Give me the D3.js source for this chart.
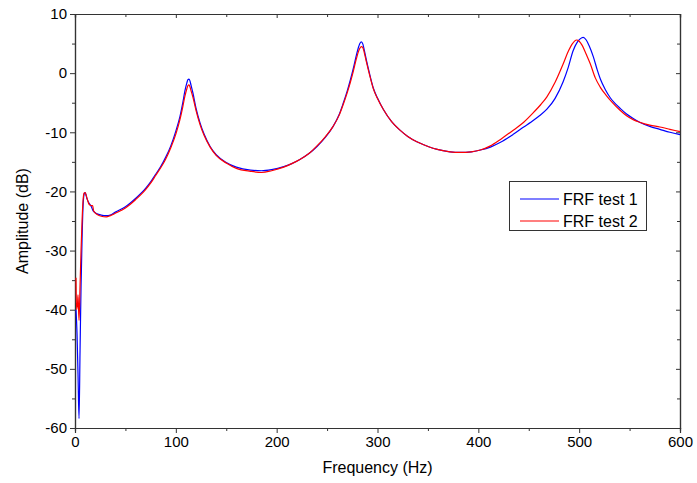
<!DOCTYPE html>
<html><head><meta charset="utf-8">
<script src="https://cdn.jsdelivr.net/npm/d3@7"></script>
<style>body{margin:0;background:#fff}svg{display:block}text{font-family:Arial,"Liberation Sans",sans-serif}</style>
</head><body>
<script>
const freq1 = [1,2,3,4,5,6,7,8,9,10,12,14,16,18,22,26,31,35,40,50,60,70,75,80,85,90,95,100,104,107,109,111,112,113,114,115,117,120,124,128,134,140,150,160,174,185,195,207,215,223,232,240,248,256,262,266,270,273,276,279,281,282.5,284,285.5,287,289,292,296,300,306,314,322,330,339,347,355,365,372,382,393,402,412,422,435,445,452,460,468,476,484,489,494,498,501,504,507,510,514,518,521,526,531,536,541,547,554,560,570,580,590,600];
const amp1 = [-40,-44,-51,-58.4,-47,-36,-28,-22.5,-20.5,-20.2,-21.3,-22.0,-22.5,-23.3,-23.8,-24.0,-24.1,-24.0,-23.5,-22.6,-21.2,-19.5,-18.4,-17.1,-15.8,-14.2,-12.3,-9.8,-7.4,-4.9,-3.0,-1.6,-1.1,-1.0,-1.3,-2.0,-3.4,-5.9,-8.4,-10.3,-12.4,-13.8,-15.1,-15.9,-16.4,-16.5,-16.3,-15.8,-15.3,-14.6,-13.6,-12.4,-10.9,-9.0,-7.0,-5.1,-3.0,-1.2,0.8,3.0,4.3,5.0,5.3,4.9,3.8,2.2,0.0,-2.6,-4.2,-6.2,-8.2,-9.6,-10.7,-11.6,-12.2,-12.7,-13.1,-13.3,-13.4,-13.3,-13.0,-12.5,-11.7,-10.3,-9.1,-8.3,-7.3,-6.1,-4.3,-1.5,0.9,3.8,5.2,5.8,6.05,5.6,4.6,2.8,0.5,-1.0,-2.8,-4.2,-5.2,-6.0,-6.9,-7.7,-8.3,-9.0,-9.5,-10.0,-10.4];
const freq2 = [1,1.5,2.5,3,4,5,6,7,8,9,10,12,14,16,17.5,18.5,22,26,31,35,40,50,60,70,75,80,85,90,95,100,104,107,109,111,112,113,114,115,117,120,124,128,134,140,150,160,174,185,195,207,215,223,232,240,248,256,262,266,270,273,276,279,281,282.5,284,285.5,287,289,292,296,300,306,314,322,330,339,347,355,365,372,382,393,402,412,422,435,445,455,462,468,476,484,489,493,497.5,500,503,507,511,516,521,527,533,540,547,554,560,570,580,590,600];
const amp2 = [-34.6,-40,-39,-37.5,-41.8,-36,-30,-25,-21.5,-20.3,-20.2,-21.2,-22.2,-22.4,-22.4,-23.3,-23.9,-24.2,-24.3,-24.1,-23.7,-22.8,-21.4,-19.7,-18.6,-17.3,-16.0,-14.5,-12.6,-10.3,-7.9,-5.6,-3.9,-2.6,-2.1,-2.0,-2.3,-2.9,-4.1,-6.3,-8.7,-10.5,-12.5,-13.9,-15.2,-16.1,-16.6,-16.8,-16.5,-15.9,-15.3,-14.6,-13.6,-12.3,-10.8,-9.0,-7.1,-5.3,-3.3,-1.6,0.3,2.4,3.6,4.2,4.5,4.3,3.4,1.9,-0.2,-2.7,-4.3,-6.2,-8.2,-9.6,-10.7,-11.6,-12.2,-12.7,-13.1,-13.3,-13.4,-13.3,-13.0,-12.3,-11.2,-9.6,-8.3,-6.6,-5.3,-4.0,-1.6,1.5,3.6,4.9,5.6,5.4,4.7,3.2,1.6,-0.8,-2.4,-3.8,-5.0,-6.2,-7.2,-7.9,-8.3,-8.8,-9.1,-9.5,-9.9];
const seriesNames = ["FRF test 1","FRF test 2"];
const xTicks = [0,100,200,300,400,500,600];
const yTicks = [-60,-50,-40,-30,-20,-10,0,10];

const W=697,H=483, m={l:75,r:17,t:14,b:55};
const svg=d3.select("body").append("svg").attr("width",W).attr("height",H);
const x=d3.scaleLinear().domain([0,600]).range([m.l,W-m.r]);
const y=d3.scaleLinear().domain([-60,10]).range([H-m.b,m.t]);
const xMinor=d3.range(50,600,100), yMinor=d3.range(-55,10,10);
const fmt=d=>String(d);

const gx=svg.append("g").attr("transform",`translate(0,${H-m.b})`);
gx.call(d3.axisBottom(x).tickValues(xMinor).tickSize(3).tickFormat(""));
gx.call(g=>g.append("g").call(d3.axisBottom(x).tickValues(xTicks).tickSize(5).tickPadding(3).tickFormat(fmt)));
const gy=svg.append("g").attr("transform",`translate(${m.l},0)`);
gy.call(d3.axisLeft(y).tickValues(yMinor).tickSize(3).tickFormat(""));
gy.call(g=>g.append("g").call(d3.axisLeft(y).tickValues(yTicks).tickSize(5).tickPadding(3).tickFormat(fmt)));
const gt=svg.append("g").attr("transform",`translate(0,${m.t})`);
gt.call(d3.axisBottom(x).tickValues(xMinor).tickSize(3).tickFormat(""));
gt.call(g=>g.append("g").call(d3.axisBottom(x).tickValues(xTicks).tickSize(4).tickFormat("")));
const gr=svg.append("g").attr("transform",`translate(${W-m.r},0)`);
gr.call(d3.axisRight(y).tickValues(yMinor).tickSize(-3).tickFormat(""));
gr.call(g=>g.append("g").call(d3.axisRight(y).tickValues(yTicks).tickSize(-4).tickFormat("")));
svg.selectAll(".domain").attr("stroke","#333").attr("stroke-width",1.2);
svg.selectAll(".tick line").attr("stroke","#333");
svg.selectAll(".tick text").attr("font-size",15).attr("fill","#000").style("font-family","Arial, 'Liberation Sans', sans-serif");

const line=d3.line().x(d=>x(d[0])).y(d=>y(d[1])).curve(d3.curveMonotoneX);
const d1=freq1.map((f,i)=>[f,amp1[i]]), d2=freq2.map((f,i)=>[f,amp2[i]]);
svg.append("path").datum(d1).attr("d",line).attr("fill","none").attr("stroke","#0000ff").attr("stroke-width",1.2);
svg.append("path").datum(d2).attr("d",line).attr("fill","none").attr("stroke","#ff0000").attr("stroke-width",1.2);

svg.append("text").attr("x",(m.l+W-m.r)/2).attr("y",473).attr("text-anchor","middle").attr("font-size",16).text("Frequency (Hz)");
svg.append("text").attr("transform",`translate(28,${(m.t+H-m.b)/2}) rotate(-90)`).attr("text-anchor","middle").attr("font-size",16).text("Amplitude (dB)");

const lg=svg.append("g");
lg.append("rect").attr("x",509.5).attr("y",181.5).attr("width",137).attr("height",49).attr("fill","#fff").attr("stroke","#333").attr("stroke-width",1);
const cols=["#0000ff","#ff0000"];
seriesNames.forEach((s,i)=>{
  const yy=199+i*22;
  lg.append("line").attr("x1",520).attr("x2",559).attr("y1",yy).attr("y2",yy).attr("stroke",cols[i]).attr("stroke-width",1.2);
  lg.append("text").attr("x",563).attr("y",yy+6).attr("font-size",16).text(s);
});
</script>
</body></html>
